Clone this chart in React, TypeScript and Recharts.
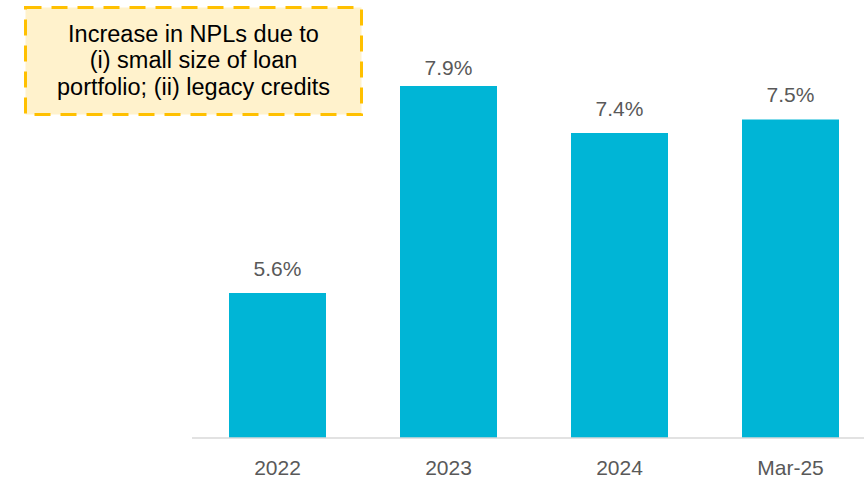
import { Bar, BarChart, LabelList, XAxis, YAxis } from "recharts";
import { type JSX } from "react";

const periods = ["2022", "2023", "2024", "Mar-25"];
const nplRatio = [5.61, 7.91, 7.39, 7.54];
const noteLines = [
  "Increase in NPLs due to",
  "(i) small size of loan",
  "portfolio; (ii) legacy credits",
];

const chartData = periods.map((period, i) => ({ period, npl: nplRatio[i] }));

const FONT = '"Liberation Sans", Arial, sans-serif';
const BAR_COLOR = "#00B5D6";
const GREY_TEXT = "#595959";

// value label above each bar, kept clear of the top edge of the plot
const renderValueLabel = ({ x, y, width, value }: any) => {
  const ty = Math.max(y - 17, 75);
  return (
    <text
      x={x + width / 2}
      y={ty}
      textAnchor="middle"
      fill={GREY_TEXT}
      fontSize={21}
      fontFamily={FONT}
    >
      {`${Number(value).toFixed(1)}%`}
    </text>
  );
};

const NoteBox = (): JSX.Element => (
  <div
    style={{
      position: "absolute",
      left: 24,
      top: 6,
      width: 339,
      height: 110,
    }}
  >
    <svg width={339} height={110} style={{ position: "absolute", left: 0, top: 0 }}>
      <rect
        x={1.5}
        y={1.5}
        width={336}
        height={107}
        fill="#FFF2CC"
        stroke="#FFC000"
        strokeWidth={3}
        strokeDasharray="16 10"
      />
    </svg>
    <div
      style={{
        position: "absolute",
        left: 0,
        top: 14.5,
        width: 339,
        textAlign: "center",
        fontSize: 23.5,
        lineHeight: "26.8px",
        color: "#000",
        fontFamily: FONT,
      }}
    >
      {noteLines.map((line) => (
        <div key={line}>{line}</div>
      ))}
    </div>
  </div>
);

const App = (): JSX.Element => {
  return (
    <div
      style={{
        position: "absolute",
        left: 0,
        top: 0,
        width: 864,
        height: 479,
        overflow: "hidden",
        background: "#fff",
        fontFamily: FONT,
      }}
    >
      <BarChart
        width={880}
        height={479}
        data={chartData}
        margin={{ top: 33, right: 4, left: 192, bottom: 0 }}
      >
        <XAxis
          dataKey="period"
          axisLine={{ stroke: "#D9D9D9", strokeWidth: 1.5 }}
          tickLine={false}
          tickSize={0}
          tickMargin={22}
          height={41}
          tick={{ fill: GREY_TEXT, fontSize: 21, fontFamily: FONT }}
        />
        <YAxis hide domain={[4, 8.5]} allowDataOverflow />
        <Bar dataKey="npl" fill={BAR_COLOR} barSize={97} isAnimationActive={false}>
          <LabelList dataKey="npl" content={renderValueLabel} />
        </Bar>
      </BarChart>
      <NoteBox />
    </div>
  );
};

export default App;
